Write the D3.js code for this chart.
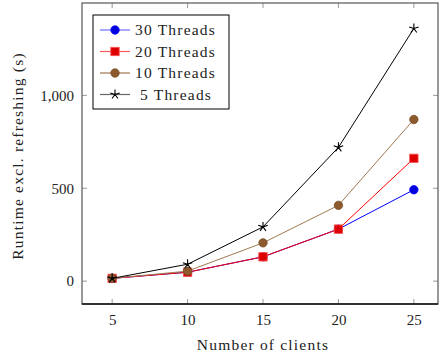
<!DOCTYPE html>
<html>
<head>
<meta charset="utf-8">
<script src="https://cdn.jsdelivr.net/npm/d3@7"></script>
<style>
  body { margin: 0; background: #fff; }
  text { font-family: "Liberation Serif", "DejaVu Serif", serif; fill: #222; }
  .words { letter-spacing: 1.2px; }
</style>
</head>
<body>
<div id="chart"></div>
<script>
// clients on the x axis
var clients = [5, 10, 15, 20, 25];
var threads30 = [15, 48, 131, 280, 492];
var threads20 = [15, 48, 131, 280, 661];
var threads10 = [15, 54, 206, 408, 870];
var threads5 = [15, 91, 292, 720, 1360];
var seriesNames = ["30 Threads", "20 Threads", "10 Threads", "5 Threads"];
var yTicks = [0, 500, 1000];

var svgWidth = 440;
var svgHeight = 356;
var margin = { top: 3, right: 2, bottom: 52, left: 82 };
var width = svgWidth - margin.left - margin.right;
var height = svgHeight - margin.top - margin.bottom;

var svg = d3.select("#chart")
    .append("svg")
    .attr("width", svgWidth)
    .attr("height", svgHeight);

var chartGroup = svg.append("g")
    .attr("transform", `translate(${margin.left}, ${margin.top})`);

var xScale = d3.scaleLinear()
    .domain([3, 26.6])
    .range([0, width]);

var yScale = d3.scaleLinear()
    .domain([-123, 1497])
    .range([height, 0]);

// tick marks inside frame
clients.forEach(function(c) {
    var x = xScale(c);
    chartGroup.append("line").attr("x1", x).attr("x2", x).attr("y1", height).attr("y2", height - 5)
        .attr("stroke", "#999").attr("stroke-width", 1);
    chartGroup.append("line").attr("x1", x).attr("x2", x).attr("y1", 0).attr("y2", 5)
        .attr("stroke", "#999").attr("stroke-width", 1);
});
yTicks.forEach(function(t) {
    var y = yScale(t);
    chartGroup.append("line").attr("x1", 0).attr("x2", 5).attr("y1", y).attr("y2", y)
        .attr("stroke", "#999").attr("stroke-width", 1);
    chartGroup.append("line").attr("x1", width).attr("x2", width - 5).attr("y1", y).attr("y2", y)
        .attr("stroke", "#999").attr("stroke-width", 1);
});

// frame
chartGroup.append("rect")
    .attr("width", width).attr("height", height)
    .attr("fill", "none").attr("stroke", "#555").attr("stroke-width", 1.2);
chartGroup.append("line")
    .attr("x1", 0).attr("x2", width).attr("y1", height).attr("y2", height)
    .attr("stroke", "#111").attr("stroke-width", 1.4);

// tick labels through d3 axes (no domain / ticks drawn)
var bottomAxis = d3.axisBottom(xScale).tickValues(clients).tickSize(0).tickPadding(10);
var leftAxis = d3.axisLeft(yScale).tickValues(yTicks).tickSize(0).tickPadding(8)
    .tickFormat(d3.format(","));

var xAxis = chartGroup.append("g")
    .attr("transform", `translate(0, ${height})`)
    .call(bottomAxis);
var yAxis = chartGroup.append("g").call(leftAxis);

[xAxis, yAxis].forEach(function(a) {
    a.select(".domain").remove();
    a.selectAll("text").attr("font-family", "Liberation Serif, serif")
        .attr("font-size", 15).attr("fill", "#222");
});

svg.append("text")
    .classed("words", true)
    .attr("x", 263)
    .attr("y", 350)
    .attr("text-anchor", "middle")
    .attr("font-size", 15.5)
    .text("Number of clients");

svg.append("text")
    .classed("words", true)
    .attr("transform", "translate(23, 156) rotate(-90)")
    .attr("text-anchor", "middle")
    .attr("font-size", 15.5)
    .text("Runtime excl. refreshing (s)");

var series = [
    { name: seriesNames[0], values: threads30, line: "#0000ff", fill: "#0000dd", stroke: "#0000ff", marker: "circle" },
    { name: seriesNames[1], values: threads20, line: "#ff0000", fill: "#dd0000", stroke: "#ff5555", marker: "square" },
    { name: seriesNames[2], values: threads10, line: "#a07850", fill: "#8c5a2c", stroke: "#7a4e26", marker: "circle" },
    { name: seriesNames[3], values: threads5, line: "#000000", fill: "#000", stroke: "#000", marker: "star" }
];

var lineGen = d3.line()
    .x(d => xScale(d[0]))
    .y(d => yScale(d[1]));

function drawMarker(g, s, x, y) {
    if (s.marker === "circle") {
        g.append("circle").attr("cx", x).attr("cy", y).attr("r", 4.2)
            .attr("fill", s.fill).attr("stroke", s.stroke).attr("stroke-width", 0.8);
    } else if (s.marker === "square") {
        g.append("rect").attr("x", x - 4.2).attr("y", y - 4.2).attr("width", 8.4).attr("height", 8.4)
            .attr("fill", s.fill).attr("stroke", s.stroke).attr("stroke-width", 0.8);
    } else {
        // five-armed asterisk
        var star = "";
        for (var k = 0; k < 5; k++) {
            var a = -Math.PI / 2 + k * 2 * Math.PI / 5;
            star += `M${x},${y}L${x + 5 * Math.cos(a)},${y + 5 * Math.sin(a)}`;
        }
        g.append("path").attr("d", star).attr("stroke", "#000").attr("stroke-width", 1.1).attr("fill", "none");
    }
}

series.forEach(function(s) {
    var pts = clients.map((c, i) => [c, s.values[i]]);
    chartGroup.append("path")
        .datum(pts)
        .attr("fill", "none")
        .attr("stroke", s.line)
        .attr("stroke-width", 1)
        .attr("d", lineGen);
    pts.forEach(function(p) {
        drawMarker(chartGroup, s, xScale(p[0]), yScale(p[1]));
    });
});

// legend
var legend = svg.append("g").attr("transform", "translate(93, 15)");
legend.append("rect")
    .attr("width", 136).attr("height", 94)
    .attr("fill", "#fff").attr("stroke", "#000").attr("stroke-width", 1);
var lightLines = ["#6f6fff", "#ff5a5a", "#a07850", "#666"];
series.forEach(function(s, i) {
    var y = 15 + i * 21.5;
    legend.append("line").attr("x1", 7).attr("x2", 37).attr("y1", y).attr("y2", y)
        .attr("stroke", lightLines[i]).attr("stroke-width", 1.2);
    drawMarker(legend, s, 22, y);
    legend.append("text")
        .classed("words", true)
        .attr("x", i === 3 ? 47 : 42).attr("y", y + 5)
        .attr("font-size", 15.5)
        .text(s.name);
});
</script>
</body>
</html>
